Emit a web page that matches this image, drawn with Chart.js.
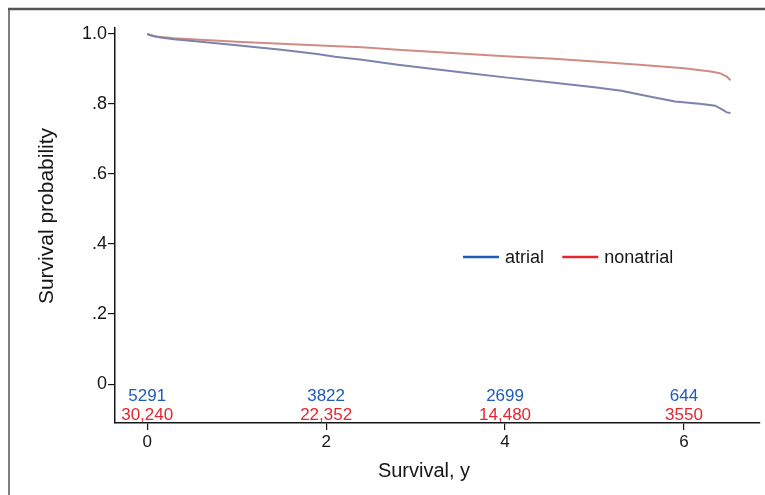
<!DOCTYPE html>
<html><head><meta charset="utf-8">
<script src="https://cdn.jsdelivr.net/npm/chart.js@4/dist/chart.umd.min.js"></script>
<style>html,body{margin:0;padding:0;background:#fff}#wrap{width:765px;height:495px;position:relative}</style>
</head><body><div id="wrap"><canvas id="c" width="765" height="495"></canvas></div>
<script>
const atrialT = [0,0.05,0.15,0.3,0.6,1.0,1.5,1.9,2.1,2.4,2.8,3.2,3.6,4.0,4.5,5.0,5.3,5.6,5.9,6.2,6.35,6.42,6.48,6.52];
const atrialS = [1.0,0.995,0.990,0.985,0.978,0.968,0.955,0.943,0.935,0.926,0.912,0.900,0.888,0.876,0.862,0.848,0.838,0.822,0.807,0.800,0.795,0.785,0.776,0.774];
const nonatrialT = [0,0.1,0.3,1.0,2.0,2.4,2.8,3.5,4.0,4.5,5.0,5.5,6.0,6.3,6.4,6.48,6.52];
const nonatrialS = [1.0,0.993,0.988,0.978,0.966,0.962,0.955,0.944,0.936,0.930,0.921,0.912,0.902,0.893,0.888,0.878,0.868];
const riskTimes = [0,2,4,6];
const riskAtrial = ["5291","3822","2699","644"];
const riskNonatrial = ["30,240","22,352","14,480","3550"];
const xTicks = [0,2,4,6];
const yTicks = [0,0.2,0.4,0.6,0.8,1.0];
const yTickLabels = ["0",".2",".4",".6",".8","1.0"];
const seriesNames = ["atrial","nonatrial"];
const xTitle = "Survival, y";
const yTitle = "Survival probability";

const FONT = "'Liberation Sans',Arial,Helvetica,sans-serif";
const BLUE = '#1f5cb8', RED = '#e3262f', INK = '#161616';

const framePlugin = {
  id:'frame',
  beforeDraw(chart){
    const ctx = chart.ctx;
    ctx.save();
    ctx.fillStyle='#fff'; ctx.fillRect(0,0,chart.width,chart.height);
    ctx.strokeStyle='#555'; ctx.lineWidth=2.5;
    ctx.beginPath(); ctx.moveTo(8,9); ctx.lineTo(765,9); ctx.stroke();
    ctx.lineWidth=1.5;
    ctx.beginPath(); ctx.moveTo(9,9); ctx.lineTo(9,495); ctx.stroke();
    ctx.restore();
  },
  afterDraw(chart){
    const ctx = chart.ctx, xs = chart.scales.x, ys = chart.scales.y;
    ctx.save();
    ctx.font = "17px "+FONT; ctx.textAlign='center'; ctx.textBaseline='middle';
    riskTimes.forEach((t,i)=>{
      const px = xs.getPixelForValue(t);
      ctx.fillStyle = BLUE; ctx.fillText(riskAtrial[i], px, ys.getPixelForValue(-0.031)+1);
      ctx.fillStyle = RED; ctx.fillText(riskNonatrial[i], px, ys.getPixelForValue(-0.085)+1);
    });
    // axis titles
    ctx.fillStyle = INK; ctx.font = "20px "+FONT;
    ctx.fillText(xTitle, 424, 471);
    ctx.save(); ctx.translate(47, 216); ctx.rotate(-Math.PI/2);
    ctx.font = "21px "+FONT; ctx.fillText(yTitle, 0, 0); ctx.restore();
    // legend
    const ly = ys.getPixelForValue(0.363);
    const items = [{c:BLUE,t:seriesNames[0],x:xs.getPixelForValue(3.53)},{c:RED,t:seriesNames[1],x:xs.getPixelForValue(4.64)}];
    ctx.textAlign='left'; ctx.font="18px "+FONT;
    items.forEach(it=>{
      ctx.strokeStyle=it.c; ctx.lineWidth=2.5;
      ctx.beginPath(); ctx.moveTo(it.x,ly); ctx.lineTo(it.x+36,ly); ctx.stroke();
      ctx.fillStyle=INK; ctx.fillText(it.t,it.x+42,ly+1);
    });
    ctx.restore();
  }
};

new Chart(document.getElementById('c'),{
  type:'line',
  data:{datasets:[
    {label:seriesNames[0],data:atrialT.map((t,i)=>({x:t,y:atrialS[i]})),borderColor:'#7c83ad',borderWidth:2,pointRadius:0,tension:0},
    {label:seriesNames[1],data:nonatrialT.map((t,i)=>({x:t,y:nonatrialS[i]})),borderColor:'#d08c84',borderWidth:2,pointRadius:0,tension:0}
  ]},
  options:{
    responsive:false,animation:false,
    layout:{padding:{left:0,right:5,top:28,bottom:0}},
    plugins:{legend:{display:false},tooltip:{enabled:false}},
    scales:{
      x:{type:'linear',min:-0.36,max:6.85,
        afterBuildTicks(s){s.ticks=xTicks.map(v=>({value:v}));},
        afterFit(s){s.height=72;},
        border:{color:INK,width:1.5},
        grid:{drawOnChartArea:false,color:INK,tickLength:7,lineWidth:1.2},
        ticks:{color:INK,font:{family:FONT,size:17},padding:2,maxRotation:0},
        title:{display:false,text:xTitle}
      },
      y:{type:'linear',min:-0.111,max:1.017,
        afterBuildTicks(s){s.ticks=yTicks.map(v=>({value:v}));},
        afterFit(s){s.width=115;},
        border:{color:INK,width:1.5},
        grid:{drawOnChartArea:false,color:INK,tickLength:7,lineWidth:1.2},
        ticks:{color:INK,font:{family:FONT,size:18},padding:1,
          callback:(v)=>{const i=yTicks.indexOf(v);return i>=0?yTickLabels[i]:'';}},
        title:{display:false,text:yTitle}
      }
    }
  },
  plugins:[framePlugin]
});
</script></body></html>
